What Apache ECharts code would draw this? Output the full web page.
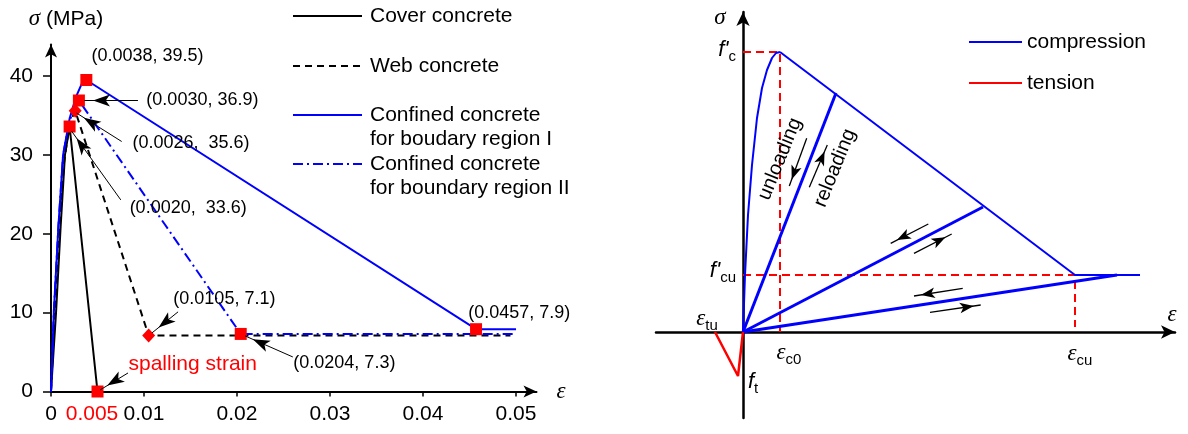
<!DOCTYPE html>
<html>
<head>
<meta charset="utf-8" />
<script src="https://cdn.jsdelivr.net/npm/echarts@6/dist/echarts.min.js"></script>
<style>
  body { margin: 0; background: #fff; }
  #main { width: 1188px; height: 434px; }
</style>
</head>
<body>
<div id="main"></div>
<script>
// ---- left: material stress-strain curves (strain, MPa) ----
var coverData = [[0, 0], [0.00054, 10], [0.00104, 21], [0.0015, 30], [0.002, 33.6], [0.005, 0]];
var webData = [[0, 0], [0.0004, 10], [0.0009, 21], [0.0014, 29], [0.002, 34], [0.0026, 35.6], [0.0105, 7.1], [0.0494, 7.1]];
var confIData = [[0, 0], [0.0003, 10], [0.0008, 21], [0.0013, 30], [0.002, 34.6], [0.0027, 37.4], [0.0033, 39], [0.0038, 39.5], [0.0457, 7.9], [0.05, 7.9]];
var confIIData = [[0, 0], [0.0003, 10], [0.0008, 21], [0.0013, 30], [0.002, 34.4], [0.003, 36.9], [0.0204, 7.3], [0.05, 7.3]];
var squarePts = [[0.0038, 39.5], [0.003, 36.9], [0.002, 33.6], [0.005, 0], [0.0204, 7.3], [0.0457, 7.9]];
var diamondPts = [[0.0026, 35.6], [0.0105, 7.1]];
var xTicks = [0, 0.01, 0.02, 0.03, 0.04, 0.05];
var xLabels = [0, 0.005, 0.01, 0.02, 0.03, 0.04, 0.05];
var yTicks = [0, 10, 20, 30, 40];
var noteText = ['(0.0038, 39.5)', '(0.0030, 36.9)', '(0.0026,  35.6)', '(0.0020,  33.6)', '(0.0105, 7.1)', '(0.0204, 7.3)', '(0.0457, 7.9)'];
var legendNames = ['Cover concrete', 'Web concrete', 'Confined concrete\nfor boudary region I', 'Confined concrete\nfor boundary region II'];

// ---- right: schematic model (arbitrary units) ----
var riseData = [[0, 0], [2, 57], [5, 117], [9, 167], [14, 214], [19, 244], [24, 262], [29, 274], [33, 279], [37, 280]];
var softenData = [[37, 280], [332, 57], [397, 57]];
var unload1 = [[0, 0], [93, 239]];
var unload2 = [[0, 0], [240, 125]];
var unload3 = [[0, 0], [374, 57]];
var tensionData = [[0, 0], [-5, -44], [-28, 0]];
var fcGuide = [[0, 280], [37, 280], [37, 0]];
var fcuGuide = [[0, 57], [332, 57], [332, 5]];

// annotation placement (layout only)
var noteAt = [[0.0043, 42.5], [0.0102, 36.9], [0.0087, 31.5], [0.0084, 23.3], [0.0131, 11.7], [0.026, 3.6], [0.0448, 10.0]];
var spallAt = [0.00828, 3.5];
var leftArrows = [
  [[0.00935, 36.9], [0.0036, 36.9]],
  [[0.0076, 31.7], [0.00276, 35.3]],
  [[0.0075, 24.3], [0.00222, 33.0]],
  [[0.01366, 10.1], [0.01086, 7.43]],
  [[0.026, 4.38], [0.02086, 7.05]],
  [[0.00828, 2.35], [0.00527, 0.19]]
];
var rightArrows = [
  [[63.7, 193.7], [46.3, 146]],
  [[66.3, 144.7], [84.3, 187]],
  [[185.3, 108], [147.7, 88.7]],
  [[171, 78.7], [208.7, 98]],
  [[219.7, 43.7], [171, 36]],
  [[187, 19.7], [237.7, 27]]
];

var SANS = 'Liberation Sans, Arial, sans-serif';
var SERIF = 'Liberation Serif, Times New Roman, serif';
var BLUE = '#0000ff', RED = '#ff0000';

var dom = document.getElementById('main');
var myChart = echarts.init(dom);

function arrowPairs(list) {
  return list.map(function (a) { return [{ coord: a[0] }, { coord: a[1] }]; });
}

var richSym = {
  i: { fontFamily: SERIF, fontStyle: 'italic', fontSize: 23, lineHeight: 28, color: '#000' },
  f: { fontFamily: SANS, fontStyle: 'italic', fontSize: 22, lineHeight: 28, color: '#000' },
  s: { fontFamily: SANS, fontSize: 15, lineHeight: 16, verticalAlign: 'bottom', color: '#000' },
  t: { fontFamily: SANS, fontSize: 20, color: '#000' }
};

var noteItems = noteText.map(function (t, k) {
  return { value: noteAt[k], name: t };
});
noteItems.push({ value: spallAt, name: 'spalling strain', label: { color: RED, fontSize: 21 } });

var schemeLabels = [
  { value: [-23, 314], label: { formatter: '{i|σ}' } },
  { value: [429, 17], label: { formatter: '{i|ε}' } },
  { value: [-7, 282], label: { formatter: "{f|f'}{s|c}", align: 'right' } },
  { value: [-7, 61], label: { formatter: "{f|f'}{s|cu}", align: 'right' } },
  { value: [-36, 13], label: { formatter: '{i|ε}{s|tu}' } },
  { value: [46, -21], label: { formatter: '{i|ε}{s|c0}' } },
  { value: [337, -22], label: { formatter: '{i|ε}{s|cu}' } },
  { value: [5, -50], label: { formatter: '{f|f}{s|t}', align: 'left' } },
  { value: [37, 173], label: { formatter: '{t|unloading}', rotate: 68 } },
  { value: [92, 164], label: { formatter: '{t|reloading}', rotate: 68 } }
];

// legend drawn by hand so the line sits on the first text row
var legendGraphic = [];
var legRows = [
  { y: 16, color: '#000', dash: null },
  { y: 66, color: '#000', dash: [7, 5] },
  { y: 115, color: BLUE, dash: null },
  { y: 164, color: BLUE, dash: [10, 4, 2, 4] }
];
legRows.forEach(function (r, k) {
  legendGraphic.push({ type: 'line', shape: { x1: 293, y1: r.y, x2: 362, y2: r.y },
    style: { stroke: r.color, lineWidth: 2, lineDash: r.dash } });
  legendNames[k].split('\n').forEach(function (line, j) {
    legendGraphic.push({ type: 'text', style: { text: line, x: 370, y: r.y + j * 24,
      fill: '#000', font: '21px ' + SANS, verticalAlign: 'middle' } });
  });
});
[['compression', BLUE, 42], ['tension', RED, 83]].forEach(function (r) {
  legendGraphic.push({ type: 'line', shape: { x1: 969, y1: r[2], x2: 1022, y2: r[2] },
    style: { stroke: r[1], lineWidth: 2 } });
  legendGraphic.push({ type: 'text', style: { text: r[0], x: 1027, y: r[2],
    fill: '#000', font: '21px ' + SANS, verticalAlign: 'middle' } });
});

function lineSeries(name, data, grid, color, width, type, extra) {
  var s = {
    name: name, type: 'line', xAxisIndex: grid, yAxisIndex: grid, data: data,
    symbol: 'none', silent: true,
    lineStyle: { color: color, width: width, type: type }
  };
  return Object.assign(s, extra || {});
}

var option = {
  animation: false,
  textStyle: { fontFamily: SANS },
  grid: [
    { left: 51, top: 44.5, width: 485.5, height: 347 },
    { left: 656, top: 12, width: 519, height: 406 }
  ],
  xAxis: [
    {
      gridIndex: 0, type: 'value', min: 0, max: 0.0522,
      name: 'ε', nameLocation: 'end', nameGap: 20,
      nameTextStyle: { fontFamily: SERIF, fontStyle: 'italic', fontSize: 23, color: '#000' },
      axisLine: { onZero: false, symbol: ['none', 'arrow'], symbolSize: [9, 13], lineStyle: { color: '#000', width: 2 } },
      axisTick: { show: true, length: 5, customValues: xTicks, lineStyle: { color: '#000', width: 1.5 } },
      axisLabel: {
        customValues: xLabels, margin: 12, fontSize: 21, color: '#000', fontFamily: SANS,
        formatter: function (v) { return Math.abs(v - 0.005) < 1e-9 ? '{r|0.005}' : String(v); },
        rich: { r: { color: RED, fontSize: 21, fontFamily: SANS, padding: [0, 11, 0, 0] } }
      },
      splitLine: { show: false }
    },
    {
      gridIndex: 1, type: 'value', min: -87, max: 432,
      axisLine: { onZero: true, symbol: ['none', 'arrow'], symbolSize: [10, 14], lineStyle: { color: '#000', width: 2.5 } },
      axisTick: { show: false }, axisLabel: { show: false }, splitLine: { show: false }
    }
  ],
  yAxis: [
    {
      gridIndex: 0, type: 'value', min: 0, max: 44,
      name: '{i|σ} (MPa)', nameLocation: 'end', nameGap: 14,
      nameTextStyle: { fontSize: 21, color: '#000', fontFamily: SANS, padding: [0, 0, 0, 30],
        rich: { i: { fontFamily: SERIF, fontStyle: 'italic', fontSize: 23, color: '#000' } } },
      axisLine: { onZero: false, symbol: ['none', 'arrow'], symbolSize: [9, 13], lineStyle: { color: '#000', width: 2 } },
      axisTick: { show: true, length: 8, customValues: yTicks, lineStyle: { color: '#000', width: 1.5 } },
      axisLabel: { customValues: yTicks, margin: 18, fontSize: 21, color: '#000', fontFamily: SANS },
      splitLine: { show: false }
    },
    {
      gridIndex: 1, type: 'value', min: -86, max: 320,
      axisLine: { onZero: true, symbol: ['none', 'arrow'], symbolSize: [10, 14], lineStyle: { color: '#000', width: 2.5 } },
      axisTick: { show: false }, axisLabel: { show: false }, splitLine: { show: false }
    }
  ],
  graphic: legendGraphic,
  series: [
    lineSeries('Cover concrete', coverData, 0, '#000', 2, 'solid'),
    lineSeries('Web concrete', webData, 0, '#000', 2, [7, 5]),
    lineSeries('Confined concrete for boudary region I', confIData, 0, BLUE, 2, 'solid'),
    lineSeries('Confined concrete for boundary region II', confIIData, 0, BLUE, 2, [10, 4, 2, 4]),
    {
      type: 'scatter', xAxisIndex: 0, yAxisIndex: 0, data: squarePts, z: 4, silent: true,
      symbol: 'rect', symbolSize: 12, itemStyle: { color: RED, opacity: 1 }
    },
    {
      type: 'scatter', xAxisIndex: 0, yAxisIndex: 0, data: diamondPts, z: 4, silent: true,
      symbol: 'diamond', symbolSize: [13, 14], itemStyle: { color: RED, opacity: 1 }
    },
    {
      type: 'scatter', xAxisIndex: 0, yAxisIndex: 0, data: noteItems, z: 5, silent: true,
      symbolSize: 1, itemStyle: { color: 'rgba(0,0,0,0)', opacity: 1 },
      label: { show: true, position: 'right', distance: 0, formatter: '{b}', fontSize: 18, color: '#000', fontFamily: SANS },
      markLine: {
        silent: true, symbol: ['none', 'arrow'], symbolSize: [9, 17], symbolOffset: [0, [0, 8.5]],
        label: { show: false }, lineStyle: { color: '#000', width: 1, type: 'solid', opacity: 1 },
        data: arrowPairs(leftArrows)
      }
    },
    // right panel
    lineSeries('compression', riseData, 1, BLUE, 2, 'solid'),
    lineSeries('compression', softenData, 1, BLUE, 2, 'solid'),
    lineSeries('compression', unload1, 1, BLUE, 3, 'solid'),
    lineSeries('compression', unload2, 1, BLUE, 3, 'solid'),
    lineSeries('compression', unload3, 1, BLUE, 3, 'solid'),
    lineSeries('tension', tensionData, 1, RED, 2.5, 'solid'),
    lineSeries('fc guide', fcGuide, 1, RED, 2, [8, 5], { z: 1 }),
    lineSeries('fcu guide', fcuGuide, 1, RED, 2, [8, 5], { z: 1 }),
    {
      type: 'scatter', xAxisIndex: 1, yAxisIndex: 1, data: schemeLabels, z: 5, silent: true,
      symbolSize: 1, itemStyle: { color: 'rgba(0,0,0,0)', opacity: 1 },
      label: { show: true, position: 'inside', rich: richSym },
      markLine: {
        silent: true, symbol: ['none', 'arrow'], symbolSize: [8, 14], symbolOffset: [0, [0, 7]],
        label: { show: false }, lineStyle: { color: '#000', width: 1.3, type: 'solid', opacity: 1 },
        data: arrowPairs(rightArrows)
      }
    }
  ]
};

if (option && typeof option === 'object') {
  myChart.setOption(option);
}
</script>
</body>
</html>
